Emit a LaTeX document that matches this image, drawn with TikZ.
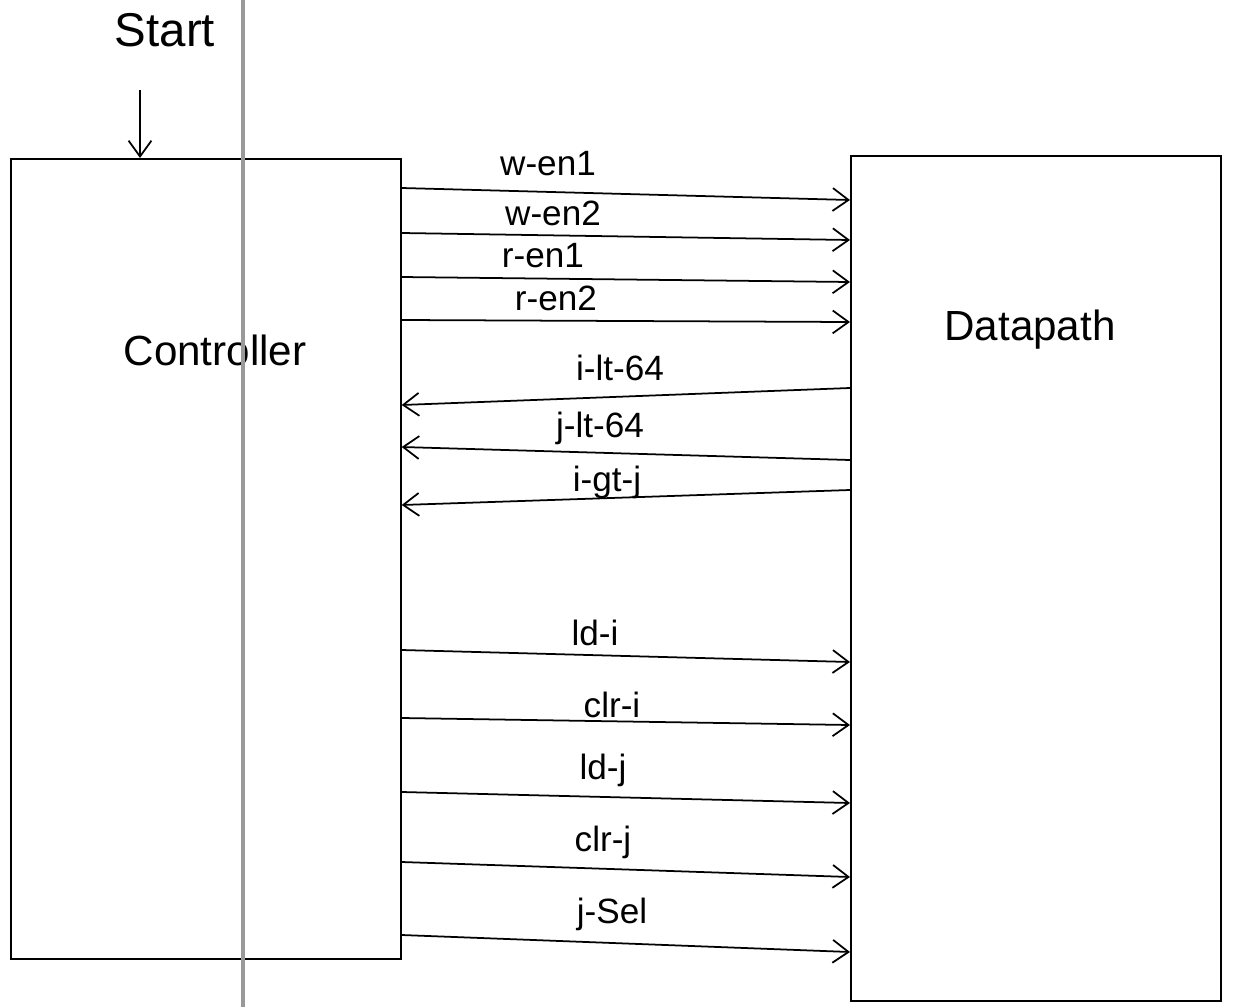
\documentclass[tikz,border=0pt]{standalone}
\usepackage{fontspec}
\setmainfont{Liberation Sans}
\usetikzlibrary{positioning,arrows.meta,calc}

\begin{document}
\begin{tikzpicture}[
  x=0.02cm, y=-0.02cm,
  block/.style={draw, line width=1pt, anchor=north west, inner sep=0pt},
  bigtxt/.style={font=\fontsize{24}{28}\selectfont},
  sigtxt/.style={font=\fontsize{20}{24}\selectfont},
  wire/.style={->, line width=1pt},
  scanline/.style={draw=black!40, line width=2.6pt},
  >={Straight Barb[length=9pt, width=13pt, line width=1pt]}
]
  \useasboundingbox (0,0) rectangle (1240,1007);

  % the two blocks
  \node[block, minimum width=7.8cm, minimum height=16cm] (ctrl) at (10,158) {};
  \node[block, minimum width=7.4cm, minimum height=16.9cm] (dp) at (850,155) {};
  \node[bigtxt] (ctrllbl) at (215,350) {Controller};
  \node[bigtxt] (dplbl) at (1030,330) {Datapath};

  % start input
  \node[bigtxt, font=\fontsize{27}{30}\selectfont] (start) at (165,30) {Start};
  \coordinate (starttail) at (140,90);
  \draw[wire] (starttail) -- (starttail |- ctrl.north);

  % controller -> datapath
  \foreach \ya/\yb/\sig/\xl/\yl in {
      188/200/w-en1/548/164, 233/240/w-en2/553/213,
      277/282/r-en1/543/256, 320/322/r-en2/556/298,
      650/662/ld-i/595/633, 718/725/clr-i/612/705,
      792/803/ld-j/603/770, 862/877/clr-j/603/842,
      935/952/j-Sel/612/914}
  {
    \draw[wire] (ctrl.east |- 0,\ya) -- (dp.west |- 0,\yb);
    \node[sigtxt] at (\xl,\yl) {\sig};
  }

  % datapath -> controller
  \foreach \ya/\yb/\sig/\xl/\yl in {
      388/405/i-lt-64/620/368, 460/447/j-lt-64/600/428,
      490/505/i-gt-j/607/482}
  {
    \draw[wire] (dp.west |- 0,\ya) -- (ctrl.east |- 0,\yb);
    \node[sigtxt] at (\xl,\yl) {\sig};
  }

  % scanner streak
  \draw[scanline] (243,0) -- (243,1007);
\end{tikzpicture}
\end{document}
